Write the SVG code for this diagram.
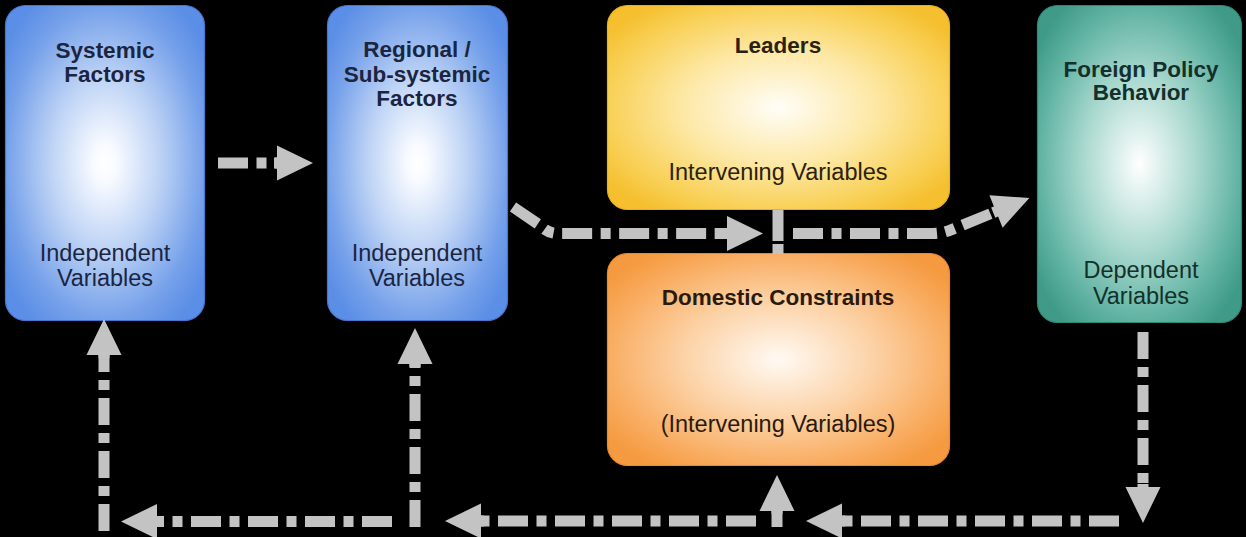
<svg xmlns="http://www.w3.org/2000/svg" width="1246" height="537" viewBox="0 0 1246 537">
  <defs>
    <radialGradient id="gBlue" cx="0.5" cy="0.5" r="0.62">
      <stop offset="0" stop-color="#ffffff"/>
      <stop offset="0.1" stop-color="#f7faff"/>
      <stop offset="0.45" stop-color="#bcd2f5"/>
      <stop offset="0.8" stop-color="#76a1ea"/>
      <stop offset="1" stop-color="#5b8ee6"/>
    </radialGradient>
    <radialGradient id="gYellow" cx="0.5" cy="0.5" r="0.62">
      <stop offset="0" stop-color="#fffef8"/>
      <stop offset="0.45" stop-color="#fde8a6"/>
      <stop offset="0.8" stop-color="#f9d158"/>
      <stop offset="1" stop-color="#f5bf2f"/>
    </radialGradient>
    <radialGradient id="gOrange" cx="0.5" cy="0.5" r="0.62">
      <stop offset="0" stop-color="#fffaf4"/>
      <stop offset="0.45" stop-color="#fcd2a6"/>
      <stop offset="0.8" stop-color="#f9ad62"/>
      <stop offset="1" stop-color="#f59a40"/>
    </radialGradient>
    <radialGradient id="gTeal" cx="0.5" cy="0.5" r="0.62">
      <stop offset="0" stop-color="#ffffff"/>
      <stop offset="0.45" stop-color="#a8d8ce"/>
      <stop offset="0.8" stop-color="#5fb2a2"/>
      <stop offset="1" stop-color="#3f9a88"/>
    </radialGradient>
    <marker id="ah" markerUnits="userSpaceOnUse" markerWidth="40" markerHeight="40" refX="0" refY="0" orient="auto" overflow="visible">
      <path d="M-3 -5.5 H0 V-17.5 L36 0 L0 17.5 V5.5 H-3 Z" fill="#c3c3c3"/>
    </marker>
    <style>
      .box { stroke-width: 1.2; }
      .blue { fill: url(#gBlue); stroke: #4677d0; }
      .yellow { fill: url(#gYellow); stroke: #e8b020; }
      .orange { fill: url(#gOrange); stroke: #e88a30; }
      .teal { fill: url(#gTeal); stroke: #2f8a78; }
      text { font-family: "Liberation Sans", Arial, sans-serif; text-anchor: middle; }
      .title { font-size: 22.5px; font-weight: bold; }
      .sub { font-size: 23.5px; }
      .tb { fill: #1b2540; }
      .ty { fill: #2a2210; }
      .to { fill: #2a1a0c; }
      .tt { fill: #14302a; }
      .link { fill: none; stroke: #c3c3c3; stroke-width: 11; stroke-linecap: butt; stroke-linejoin: round; }
      .h { stroke-dasharray: 30 8.5 10 8.5; marker-end: url(#ah); }
      .v { stroke-dasharray: 27 8 10 8; marker-end: url(#ah); }
      .solid { marker-end: url(#ah); }
    </style>
  </defs>

  <rect width="1246" height="537" fill="#000000"/>

  <g id="systemic-factors">
    <rect class="box blue" x="5.5" y="5.5" width="199" height="315" rx="20"/>
    <text class="title tb" x="105" y="58">Systemic</text>
    <text class="title tb" x="105" y="82">Factors</text>
    <text class="sub tb" x="105" y="261">Independent</text>
    <text class="sub tb" x="105" y="286">Variables</text>
  </g>

  <g id="regional-factors">
    <rect class="box blue" x="327.5" y="5.5" width="180" height="315" rx="20"/>
    <text class="title tb" x="417" y="57">Regional /</text>
    <text class="title tb" x="417" y="82">Sub-systemic</text>
    <text class="title tb" x="417" y="106">Factors</text>
    <text class="sub tb" x="417" y="261">Independent</text>
    <text class="sub tb" x="417" y="286">Variables</text>
  </g>

  <g id="leaders">
    <rect class="box yellow" x="607.5" y="5.5" width="342" height="204" rx="20"/>
    <text class="title ty" x="778" y="53">Leaders</text>
    <text class="sub ty" x="778" y="180">Intervening Variables</text>
  </g>

  <g id="domestic-constraints">
    <rect class="box orange" x="607.5" y="253.5" width="342" height="212" rx="20"/>
    <text class="title to" x="778" y="305">Domestic Constraints</text>
    <text class="sub to" x="778" y="432">(Intervening Variables)</text>
  </g>

  <g id="foreign-policy-behavior">
    <rect class="box teal" x="1037.5" y="5.5" width="204" height="317" rx="20"/>
    <text class="title tt" x="1141" y="77">Foreign Policy</text>
    <text class="title tt" x="1141" y="100">Behavior</text>
    <text class="sub tt" x="1141" y="278">Dependent</text>
    <text class="sub tt" x="1141" y="304">Variables</text>
  </g>

  <g id="connectors">
    <!-- systemic to regional -->
    <path class="link h" d="M218 163 H277"/>
    <!-- regional into the intervening level -->
    <path class="link h" d="M513 207 L541 226 Q548 233.5 558 233.5 H727"/>
    <!-- leaders / domestic link -->
    <path class="link" d="M778 210 V254" stroke-dasharray="31 3 12"/>
    <!-- intervening level to foreign policy -->
    <path class="link h" d="M793 233.5 H933 Q942 233.5 951 229.8 L996 211.5"/>
    <!-- feedback loop -->
    <path class="link v" d="M1143 332 V487"/>
    <path class="link h" d="M1119 521 H842"/>
    <path class="link solid" d="M777 527 V511"/>
    <path class="link h" d="M756 521 H481"/>
    <path class="link v" d="M415 527 V364"/>
    <path class="link h" d="M392 521.5 H157"/>
    <path class="link v" d="M104 531 V355"/>
  </g>
</svg>
